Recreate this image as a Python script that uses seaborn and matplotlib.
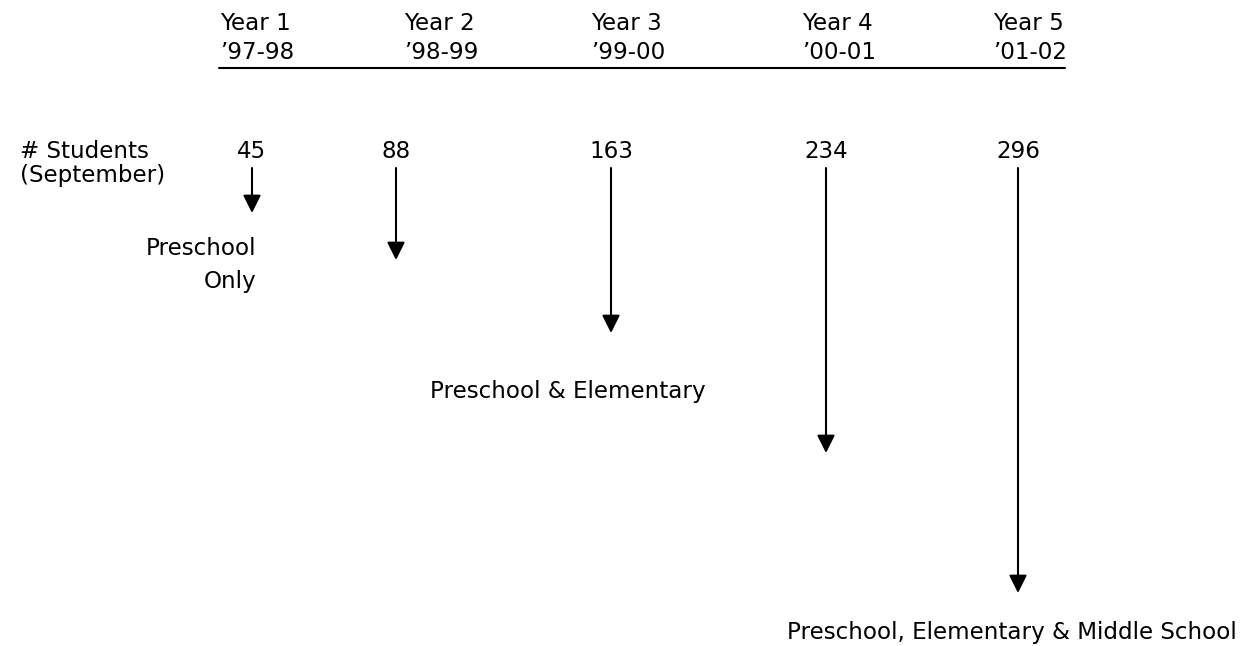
"""
Growth of enrollment, years 1-5 (diagram)
"""
import matplotlib
matplotlib.use('Agg')
import matplotlib.pyplot as plt
import seaborn as sns

# data
years = ['Year 1', 'Year 2', 'Year 3', 'Year 4', 'Year 5']
school_years = ["\u201997-98", "\u201998-99", "\u201999-00", "\u201900-01", "\u201901-02"]
students = [45, 88, 163, 234, 296]
arrow_len = [45, 92, 165, 285, 425]   # drawn arrow length (px) per year

# layout (pixel coords of a 1243x646 canvas)
W, H = 1243, 646
head_x = [220, 404, 591, 802, 993]     # left edge of header text
num_x = [252, 396, 611, 826, 1018]     # centre of counts / arrows
ARROW_TOP = 168

sns.set_theme(style='white')
plt.rcParams['font.family'] = ['DejaVu Sans']
plt.rcParams['text.color'] = 'black'
FS = 16.6

fig = plt.figure(figsize=(W / 100, H / 100), dpi=100)
ax = fig.add_axes([0, 0, 1, 1])
ax.set_xlim(0, W)
ax.set_ylim(H, 0)
ax.axis('off')

# header
for x, yr, sy in zip(head_x, years, school_years):
    ax.text(x, 30, yr, fontsize=FS, ha='left', va='baseline')
    ax.text(x, 59, sy, fontsize=FS, ha='left', va='baseline')
ax.plot([219, 1065], [68, 68], color='black', lw=1.5)

# row label
ax.text(20, 158, '# Students', fontsize=FS, ha='left', va='baseline')
ax.text(20, 182, '(September)', fontsize=FS, ha='left', va='baseline')

# counts + arrows
for x, n, L in zip(num_x, students, arrow_len):
    ax.text(x, 158, str(n), fontsize=FS, ha='center', va='baseline')
    ax.annotate('', xy=(x, ARROW_TOP + L), xytext=(x, ARROW_TOP),
                arrowprops=dict(arrowstyle='-|>,head_length=0.9,head_width=0.45',
                                color='black', lw=1.5, shrinkA=0, shrinkB=0,
                                mutation_scale=12))

# stage labels
ax.text(256, 255, 'Preschool', fontsize=FS, ha='right', va='baseline')
ax.text(256, 288, 'Only', fontsize=FS, ha='right', va='baseline')
ax.text(430, 398, 'Preschool & Elementary', fontsize=FS, ha='left', va='baseline')
ax.text(1237, 639, 'Preschool, Elementary & Middle School', fontsize=FS,
        ha='right', va='baseline')

fig.savefig('out.png', dpi=100)
plt.close(fig)
